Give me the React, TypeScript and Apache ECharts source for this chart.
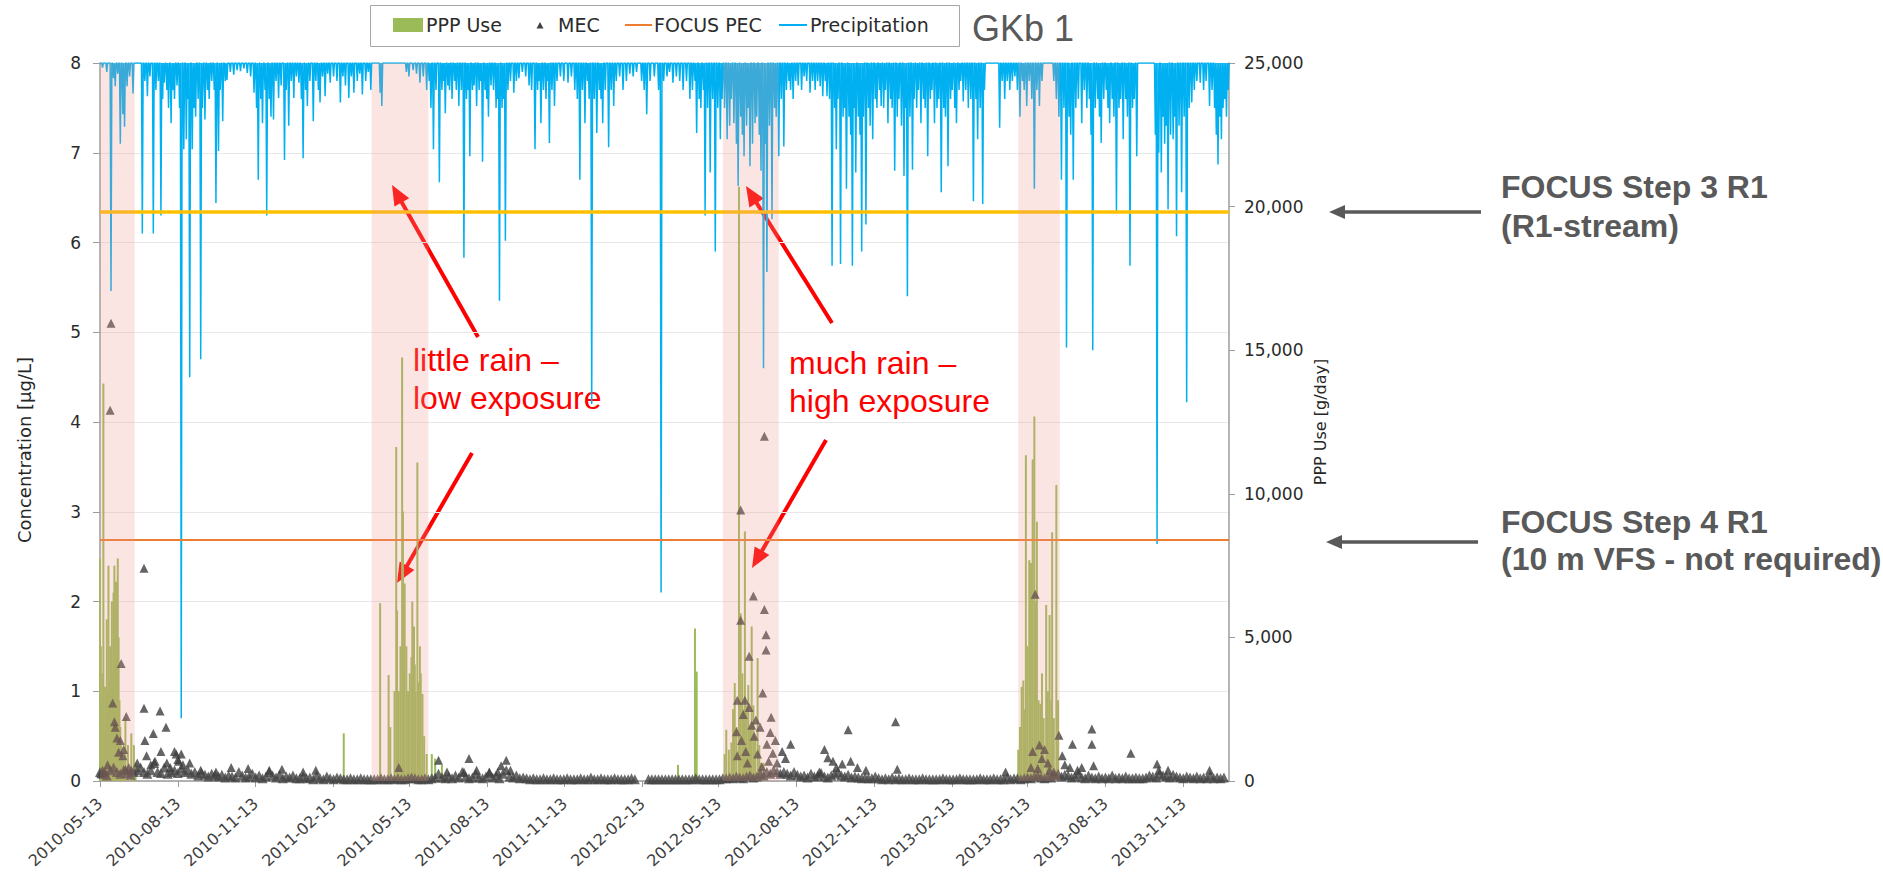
import React, { useEffect, useRef } from 'react';
import * as echarts from 'echarts';

// ---------- axis / category definitions ----------
const startDate = '2010-05-13';
const endDate = '2014-01-06';
const tickMonths = ['02', '05', '08', '11'];
const tickDayOfMonth = '13';
const concMax = 8;
const pppMax = 25000;
const rainAxisMax = 80;

// ---------- reference levels (µg/L) ----------
const focusStep3 = 6.34;
const focusStep4 = 2.69;

// ---------- application periods (shaded) ----------
const applicationPeriods = [
  ['2010-05-13', '2010-06-23'],
  ['2011-03-30', '2011-06-05'],
  ['2012-05-18', '2012-07-23'],
  ['2013-05-02', '2013-06-20'],
];

// ---------- PPP use [day index, g/day] ----------
const pppUse2010 = [[0,7750],[1,4690],[2,2810],[3,3750],[4,13840],[5,1560],[6,3280],[7,1880],[8,5630],[9,3130],[10,7500],[11,3440],[12,4690],[13,2810],[14,6250],[15,3750],[16,6560],[17,7500],[18,4380],[19,6940],[20,3130],[21,7750],[22,5000],[23,2810],[24,1880],[25,1250],[26,940],[28,780],[30,2190],[33,1250],[37,1660],[40,1250],[42,630]];
const pppUse2011 = [[288,1660],[331,6190],[341,3690],[343,1880],[348,3130],[350,11630],[351,5940],[353,3130],[355,4690],[357,14750],[358,9380],[359,3750],[360,6880],[362,4690],[364,3130],[366,3750],[368,4310],[369,6250],[371,5380],[372,4060],[373,3130],[375,11090],[376,3440],[378,4690],[379,3750],[381,3030],[383,1560],[386,940],[392,940],[396,780],[404,560]];
const pppUse2012 = [[683,560],[703,5310],[705,3810],[738,940],[740,1780],[743,1090],[746,1340],[748,2500],[750,3410],[752,1880],[755,20690],[757,5840],[759,3750],[760,2500],[762,8690],[764,2630],[766,3340],[768,1880],[770,5380],[772,2630],[774,1560],[777,4280],[779,1250],[781,630],[784,630]];
const pppUse2013 = [[1085,1090],[1087,1880],[1089,3280],[1091,3500],[1092,2500],[1094,11340],[1096,4690],[1098,7690],[1100,7590],[1102,11190],[1104,12690],[1106,6250],[1107,9030],[1109,2810],[1111,2690],[1113,3750],[1115,2190],[1118,6130],[1120,3130],[1122,5780],[1124,2810],[1125,8660],[1127,2190],[1130,10310],[1132,2810]];

// ---------- precipitation events [day index, mm] (other days dry) ----------
const rain2010 = [[3,0.5],[8,1],[13,25.4],[16,1.7],[18,2.6],[21,1.2],[24,9],[27,5.7],[29,7.1],[32,2.6],[35,1.5],[39,3.4],[50,19],[53,2],[56,3.7],[59,1.5],[63,19],[66,3],[69,2],[72,17],[74,4],[76,2.2],[79,3],[81,5],[84,6.7],[86,3],[88,4],[91,2.5],[94,5],[96,73],[99,9.6],[102,8.5],[104,4],[106,35],[109,9.6],[111,5],[113,6],[116,4],[119,33],[121,5],[124,6.3],[127,3],[129,4],[132,2],[135,3],[137,15.6],[140,9.8],[142,3],[145,6.5],[148,2],[150,1.9],[154,1],[158,1.3],[162,0.8],[166,0.9],[170,0.6],[174,1.1],[178,1.5],[182,3.3],[185,5],[187,13],[190,4],[192,6.7],[195,3],[197,17],[200,4],[202,6],[205,6.3],[208,2],[211,3.9],[214,2.5],[218,10.8],[220,3],[223,7],[226,2],[229,3.9],[232,1.5]];
const rain2011 = [[235,2.2],[238,4],[240,10.6],[243,3],[245,4.8],[248,2],[252,6.5],[255,2],[258,3],[260,4.4],[263,1.5],[266,3.7],[269,1.2],[272,2.2],[276,1.5],[280,2],[284,4.4],[287,1.5],[290,2.5],[294,3.9],[297,1.5],[300,3.3],[304,2],[307,1.2],[310,3.5],[314,2],[317,1],[320,3],[331,3.3],[333,4.8],[362,1],[365,1.5],[370,0.8],[374,1.2],[378,2.2],[382,1.5],[386,3],[389,2],[391,5],[394,9.6],[397,3],[401,13.3],[404,3],[406,2],[408,5.6],[411,2.5],[413,3],[416,4],[419,2],[421,3],[424,4.8],[427,3],[430,21.7],[433,4],[435,3],[437,10.4],[440,3],[442,2.5],[445,4.8],[448,3],[450,2],[452,11],[455,3],[457,4],[459,6],[462,2.5],[465,3],[468,5],[470,4],[472,26.5],[475,5],[477,4],[479,19.8],[482,3],[485,2],[489,3.3],[492,2],[495,1.7],[499,1],[503,1.5],[507,2.5],[510,3],[514,9.6],[517,3],[519,2],[521,6.7],[524,3],[527,4],[529,2],[531,8.9],[534,3],[537,4.8],[540,2],[544,1.5],[548,2],[553,2.2],[557,1.5],[561,3],[564,4],[567,13],[570,3],[573,6.7],[576,2],[578,4],[581,38],[584,4],[587,7.8],[590,3],[592,4],[594,6.7],[597,3]];
const rain2012 = [[601,9.4],[604,3],[607,4.8],[610,2],[614,1.5],[618,3],[622,2],[626,1.2],[630,1.5],[634,1],[640,2],[643,3],[646,5.7],[650,2],[655,1.5],[660,3],[663,59],[666,2],[670,1.5],[673,1],[677,2.2],[681,1.5],[685,2],[689,3],[693,2],[697,4],[700,3],[703,2],[705,7.8],[708,4],[710,5],[713,3],[715,17],[718,5],[721,12.2],[724,4],[727,21],[730,5],[733,8.5],[735,4],[738,5],[741,8.5],[744,7],[746,4],[749,6.7],[752,9],[754,13.7],[757,6],[759,8],[761,10.4],[764,7],[766,5],[768,11.5],[771,9],[774,6.7],[776,6],[779,8],[781,12],[784,34],[786,9],[788,23.3],[791,7],[794,17.4],[797,5],[799,6],[802,10.4],[805,4],[808,9.3],[811,3],[814,2],[816,3],[819,4],[822,2],[825,2.5],[829,3],[832,1.5],[835,2],[839,3.3],[842,2],[845,3],[848,2],[851,2.6],[854,3.7],[857,2],[859,3.7],[862,4],[865,22.6],[868,5],[870,9.6],[872,4],[875,22.4],[878,6],[880,5],[882,14],[885,6],[887,8],[889,22.6],[891,5],[893,12.2],[896,6],[898,8],[900,21],[902,6],[905,18],[908,5],[910,7],[913,8.5],[916,4],[918,5],[921,3],[923,4.8],[926,5],[928,3],[931,6.7],[934,4],[936,5],[939,12],[942,6],[944,4],[947,7],[950,12.6],[952,5],[954,26],[957,6],[960,11.9],[962,4]];
const rain2013 = [[965,5],[967,3],[970,6.7],[973,4],[975,5],[978,10.4],[981,4],[983,3],[986,6.7],[989,5],[991,4],[994,14.4],[997,5],[999,6],[1002,11.5],[1005,4],[1007,3],[1010,5],[1012,6.7],[1015,3],[1017,2],[1020,4.3],[1023,3],[1026,5],[1029,4],[1032,15.4],[1035,4],[1037,8.5],[1040,5],[1043,15.7],[1045,3],[1063,7.2],[1066,2],[1069,4],[1072,2],[1075,3],[1078,2],[1081,1.5],[1084,3],[1087,6],[1090,2],[1092,3],[1095,4.8],[1098,2],[1101,4],[1104,14],[1107,3],[1110,4.8],[1113,2],[1127,2],[1130,4],[1133,6],[1136,13],[1139,5],[1142,31.7],[1145,6],[1147,8],[1150,13],[1153,5],[1156,4],[1160,6.7],[1163,3],[1166,5],[1169,4],[1171,8],[1173,32],[1176,5],[1179,4],[1181,6],[1183,8.9],[1186,4],[1189,3],[1191,5],[1193,6.7],[1196,4],[1198,6],[1201,16.7],[1204,5],[1206,4],[1209,8.5],[1212,4],[1214,6],[1217,22.6],[1220,5],[1222,4],[1225,10.4],[1247,8],[1249,53.6],[1251,10],[1254,12.2],[1256,6],[1258,9],[1260,7],[1262,16.3],[1265,8],[1268,8.5],[1270,6],[1272,19.3],[1275,7],[1278,14.4],[1281,6],[1284,37.8],[1287,5],[1290,4.4],[1293,3],[1296,2],[1300,2.2],[1304,3],[1307,2],[1311,4.8],[1314,3],[1317,5],[1319,8],[1321,11.3],[1323,6],[1325,8.5],[1327,5],[1329,4],[1331,6],[1333,3]];

// ---------- MEC: low background values, one reading every 4 days (in 0.01 µg/L) ----------
const mecSampleStep = 4;
const mecBaselineCenti = [
  10, 8, 6, 12, 15, 10, 8, 12, 9, 7, 10, 12,
  15, 10, 8, 12, 20, 10, 9, 15, 8, 10, 12, 9, 14, 10,
  12, 8, 10, 6, 9, 7, 5, 8, 6, 5, 7, 4, 6, 5, 4,
  10, 6, 4, 5, 8, 4, 6, 3, 5, 10, 6, 4, 7, 3, 5, 4, 6, 3,
  3, 5, 3, 4, 2, 6, 3, 2, 5, 3, 2, 4, 3, 2, 2, 3, 2, 2, 3, 2, 2, 2,
  2, 2, 3, 2, 2, 3, 2, 3, 2, 2, 3, 4, 3, 2, 2, 3, 2, 3, 4,
  8, 4, 3, 5, 3, 6, 4, 10, 5, 3, 4, 8, 4, 3, 5, 9, 4, 6, 3, 8, 12, 5, 4, 6, 3, 4,
  3, 2, 3, 2, 2, 3, 2, 2, 3, 2, 2, 2, 3, 2, 2, 2, 3, 2, 2, 4, 2, 2, 3, 2, 2, 2, 3, 2, 2, 2, 2, 3, 2,
  null, null, null,
  2, 2, 2, 2, 2, 2, 2, 2, 2, 2, 2, 2, 2, 2, 3, 2, 2, 2, 2, 2, 2, 2, 3,
  3, 4, 3, 5, 4, 3, 5, 6, 4, 5, 8, 6, 10, 8, 12, 10, 8,
  10, 8, 6, 10, 7, 5, 6, 4, 8, 5, 6, 9, 5, 4, 6, 8, 10, 6, 5, 7, 4, 5, 4, 3,
  4, 3, 3, 5, 3, 2, 3, 2, 4, 2, 3, 2, 2, 3, 2, 2, 2, 3, 2, 2, 2, 2, 2, 3, 2, 2, 2, 2, 3, 2, 2, 2, 2, 2, 3, 2, 2, 2, 3, 2, 2, 2, 4, 2, 3,
  3, 2, 3, 4, 3, 5, 6, 4, 3, 5, 4, 6, 8, 5, 7,
  6, 4, 5, 8, 4, 3, 6, 4, 3, 5, 3, 4, 3, 6, 3, 4, 3, 5, 3, 3, 4, 3,
  3, 4, 6, 5, 4, 8, 6, 5, 4, 7, 5, 4, 3, 5, 4, 3, 5, 3, 4, 3, 6, 3, 4, 3, 4,
];

// ---------- MEC: individual higher readings [day index, µg/L] ----------
const mecPeaks2010 = [[13,5.1],[12,4.13],[52,2.37],[25,1.31],[15,0.87],[17,0.66],[18,0.6],[31,0.72],[52,0.81],[71,0.78],[78,0.6],[63,0.53],[53,0.45],[72,0.33],[88,0.33],[20,0.48],[24,0.45],[22,0.32],[3,0.12],[1,0.08],[30,0.13],[44,0.2],[55,0.28],[79,0.2],[92,0.24],[106,0.2],[119,0.12],[137,0.1],[155,0.15],[60,0.18],[65,0.22],[83,0.15],[98,0.18],[28,0.35],[34,0.15],[37,0.12],[9,0.18],[6,0.1],[27,0.28],[96,0.3],[90,0.3],[93,0.22],[175,0.14],[200,0.12],[215,0.13],[240,0.1],[255,0.12]];
const mecPeaks2011 = [[353,0.15],[400,0.23],[436,0.25],[430,0.1],[480,0.23],[474,0.17],[470,0.1],[485,0.12],[410,0.1],[445,0.12],[460,0.1]];
const mecPeaks2012 = [[757,3.02],[785,3.84],[757,1.79],[772,2.06],[785,1.91],[787,1.63],[787,1.46],[767,1.39],[783,0.98],[753,0.9],[762,0.9],[760,0.74],[767,0.82],[775,0.68],[793,0.71],[752,0.55],[773,0.5],[792,0.54],[788,0.41],[753,0.28],[763,0.33],[795,0.31],[782,0.16],[806,0.33],[816,0.41],[856,0.35],[810,0.25],[800,0.2],[790,0.22],[798,0.45],[780,0.6],[770,0.62],[758,0.45],[765,0.2],[777,0.3],[866,0.22],[884,0.57],[887,0.22],[877,0.19],[940,0.66],[942,0.13],[860,0.26],[870,0.15],[895,0.15],[905,0.12],[850,0.1]];
const mecPeaks2013 = [[1105,2.08],[1102,0.33],[1110,0.4],[1113,0.25],[1108,0.14],[1133,0.51],[1127,0.1],[1137,0.28],[1149,0.41],[1146,0.15],[1172,0.58],[1172,0.41],[1174,0.17],[1218,0.31],[1249,0.19],[1251,0.12],[1262,0.12],[1311,0.12],[1070,0.1],[1120,0.2],[1116,0.35],[1140,0.18],[1155,0.12],[1160,0.15],[1100,0.15],[1122,0.12]];

// ---------- colours ----------
const C_PPP = '#9BBB59';
const C_MEC = '#3d3d3d';
const C_MEC_LOW = '#454545';
const C_PEC4 = '#ED7D31';
const C_PEC3 = '#FFC000';
const C_RAIN = '#00B0F0';
const C_BAND = 'rgba(235,150,145,0.25)';
const C_AXIS = '#9c9c9c';
const C_RED = '#FF0000';
const C_GRAY = '#595959';

function buildDates(): string[] {
  const out: string[] = [];
  let t = Date.parse(startDate + 'T00:00:00Z');
  for (let guard = 0; guard < 5000; guard++) {
    const s = new Date(t).toISOString().slice(0, 10);
    out.push(s);
    if (s === endDate) break;
    t += 86400000;
  }
  return out;
}

function arrow(x1: number, y1: number, x2: number, y2: number, color: string, lw: number, hl: number, hw: number) {
  const dx = x2 - x1, dy = y2 - y1;
  const L = Math.hypot(dx, dy);
  const ux = dx / L, uy = dy / L;
  const bx = x2 - ux * hl, by = y2 - uy * hl;
  const px = -uy, py = ux;
  return [
    { type: 'line', silent: true, shape: { x1, y1, x2: bx + ux * 2, y2: by + uy * 2 }, style: { stroke: color, lineWidth: lw } },
    { type: 'polygon', silent: true, shape: { points: [[x2, y2], [bx + px * hw / 2, by + py * hw / 2], [bx - px * hw / 2, by - py * hw / 2]] }, style: { fill: color } },
  ];
}

function txt(text: string, x: number, y: number, font: string, fill: string, align = 'left', extra: any = {}) {
  return {
    type: 'text', silent: true, x, y, ...extra,
    style: { text, font, fill, align, verticalAlign: 'middle', textAlign: align, textVerticalAlign: 'middle' },
  };
}

export default function App() {
  const ref = useRef<HTMLDivElement>(null);

  useEffect(() => {
    document.body.style.margin = '0';
    if (!ref.current) return;
    const chart = echarts.init(ref.current, null, { renderer: 'svg' });

    const dates = buildDates();
    const N = dates.length;

    const pppFull: (number | null)[] = new Array(N).fill(null);
    [...pppUse2010, ...pppUse2011, ...pppUse2012, ...pppUse2013].forEach(([d, v]) => { if (d < N) pppFull[d] = v; });

    const rainFull: number[] = new Array(N).fill(0);
    [...rain2010, ...rain2011, ...rain2012, ...rain2013].forEach(([d, v]) => { if (d < N) rainFull[d] = v; });

    const mecLow: number[][] = [];
    mecBaselineCenti.forEach((v, k) => {
      if (v !== null && k * mecSampleStep < N) mecLow.push([k * mecSampleStep, (v as number) / 100]);
    });
    const mecHigh: number[][] = [...mecPeaks2010, ...mecPeaks2011, ...mecPeaks2012, ...mecPeaks2013];

    const isTick = (_i: number, v: string) => v.slice(8) === tickDayOfMonth && tickMonths.includes(v.slice(5, 7));

    const F_AX = "'DejaVu Sans', sans-serif";
    const F_AR = "'Liberation Sans', Arial, sans-serif";

    const legendY = 25;
    const graphic: any[] = [
      // legend box
      { type: 'rect', silent: true, shape: { x: 370.5, y: 5.5, width: 589, height: 41 }, style: { fill: '#fff', stroke: '#a6a6a6', lineWidth: 1 } },
      { type: 'rect', silent: true, shape: { x: 393, y: 18, width: 30, height: 14 }, style: { fill: C_PPP } },
      txt('PPP Use', 426, legendY, `19px ${F_AX}`, '#2b2b2b'),
      { type: 'polygon', silent: true, shape: { points: [[540, 22], [543.5, 28.5], [536.5, 28.5]] }, style: { fill: '#404040' } },
      txt('MEC', 558, legendY, `19px ${F_AX}`, '#2b2b2b'),
      { type: 'line', silent: true, shape: { x1: 625, y1: legendY, x2: 652, y2: legendY }, style: { stroke: C_PEC4, lineWidth: 2 } },
      txt('FOCUS PEC', 654, legendY, `19px ${F_AX}`, '#2b2b2b'),
      { type: 'line', silent: true, shape: { x1: 779, y1: legendY, x2: 807, y2: legendY }, style: { stroke: C_RAIN, lineWidth: 2 } },
      txt('Precipitation', 810, legendY, `19px ${F_AX}`, '#2b2b2b'),
      txt('GKb 1', 972, 28.5, `36px ${F_AR}`, C_GRAY),
      // axis names
      txt('Concentration [µg/L]', 24, 450, `18px ${F_AX}`, '#262626', 'center', { rotation: Math.PI / 2 }),
      txt('PPP Use [g/day]', 1320, 422, `16px ${F_AX}`, '#262626', 'center', { rotation: Math.PI / 2 }),
      // red annotations
      txt('little rain –', 413, 360, `32px ${F_AR}`, C_RED),
      txt('low exposure', 413, 398, `32px ${F_AR}`, C_RED),
      txt('much rain –', 789, 363, `32px ${F_AR}`, C_RED),
      txt('high exposure', 789, 401, `32px ${F_AR}`, C_RED),
      ...arrow(478, 337, 392, 185, C_RED, 4, 20, 17),
      ...arrow(472, 453, 397, 583, C_RED, 4, 20, 17),
      ...arrow(832, 323, 746, 186, C_RED, 4, 20, 17),
      ...arrow(826, 440, 752, 568, C_RED, 4, 20, 17),
      // right side notes
      ...arrow(1481, 212, 1329, 212, C_GRAY, 3.5, 16, 14),
      ...arrow(1478, 542, 1326, 542, C_GRAY, 3.5, 16, 14),
      txt('FOCUS Step 3 R1', 1501, 187, `bold 32px ${F_AR}`, C_GRAY),
      txt('(R1-stream)', 1501, 226, `bold 32px ${F_AR}`, C_GRAY),
      txt('FOCUS Step 4 R1', 1501, 522, `bold 32px ${F_AR}`, C_GRAY),
      txt('(10 m VFS - not required)', 1501, 559, `bold 32px ${F_AR}`, C_GRAY),
    ];

    const option: any = {
      animation: false,
      backgroundColor: '#ffffff',
      grid: { left: 100, right: 654, top: 63, bottom: 93, containLabel: false, outerBoundsMode: 'none' },
      xAxis: {
        type: 'category', data: dates, boundaryGap: false,
        axisLine: { show: true, lineStyle: { color: C_AXIS, width: 1.5 } },
        axisTick: { show: true, interval: isTick, length: 6, lineStyle: { color: C_AXIS } },
        axisLabel: { interval: isTick, rotate: 42, margin: 20, fontFamily: F_AX, fontSize: 16, color: '#404040' },
        splitLine: { show: false },
      },
      yAxis: [
        {
          type: 'value', min: 0, max: concMax, interval: 1,
          axisLine: { show: true, lineStyle: { color: C_AXIS, width: 1.5 } },
          axisTick: { show: true, length: 7, lineStyle: { color: C_AXIS } },
          axisLabel: { margin: 19, fontFamily: F_AX, fontSize: 17, color: '#2b2b2b' },
          splitLine: { show: true, lineStyle: { color: '#e8e8e8', width: 1 } },
        },
        {
          type: 'value', position: 'right', min: 0, max: pppMax, interval: 5000,
          axisLine: { show: true, lineStyle: { color: C_AXIS, width: 1.5 } },
          axisTick: { show: true, length: 6, lineStyle: { color: C_AXIS } },
          axisLabel: { margin: 15, fontFamily: F_AX, fontSize: 17, color: '#2b2b2b', formatter: (v: number) => v.toLocaleString('en-US') },
          splitLine: { show: false },
        },
        { type: 'value', inverse: true, min: 0, max: rainAxisMax, show: false, splitLine: { show: false } },
      ],
      series: [
        {
          name: 'PPP Use', type: 'bar', xAxisIndex: 0, yAxisIndex: 1, data: pppFull,
          barWidth: 2, itemStyle: { color: C_PPP }, z: 2, silent: true,
        },
        {
          name: 'Precipitation', type: 'line', xAxisIndex: 0, yAxisIndex: 2, data: rainFull,
          symbol: 'none', showSymbol: false, lineStyle: { color: C_RAIN, width: 1.5 }, z: 3, silent: true,
        },
        {
          name: 'FOCUS PEC', type: 'line', xAxisIndex: 0, yAxisIndex: 0, data: [], z: 4,
          markLine: {
            silent: true, symbol: ['none', 'none'], label: { show: false }, animation: false,
            data: [
              { yAxis: focusStep3, lineStyle: { color: C_PEC3, width: 3.5, type: 'solid' } },
              { yAxis: focusStep4, lineStyle: { color: C_PEC4, width: 2, type: 'solid' } },
            ],
          },
        },
        {
          name: 'MEC', type: 'scatter', xAxisIndex: 0, yAxisIndex: 0, data: mecLow,
          symbol: 'triangle', symbolSize: 10, itemStyle: { color: C_MEC_LOW }, z: 5, silent: true,
        },
        {
          name: 'MEC', type: 'scatter', xAxisIndex: 0, yAxisIndex: 0, data: mecHigh,
          symbol: 'triangle', symbolSize: 9, itemStyle: { color: C_MEC }, z: 5, silent: true,
        },
        {
          name: 'Application period', type: 'line', xAxisIndex: 0, yAxisIndex: 0, data: [], z: 10,
          markArea: {
            silent: true, z: 10, animation: false,
            itemStyle: { color: C_BAND },
            data: applicationPeriods.map(([a, b]) => [{ xAxis: a }, { xAxis: b }]),
          },
        },
      ],
      graphic,
    };

    chart.setOption(option);
    return () => chart.dispose();
  }, []);

  return <div ref={ref} style={{ position: 'absolute', left: 0, top: 0, width: 1883, height: 874 }} />;
}
